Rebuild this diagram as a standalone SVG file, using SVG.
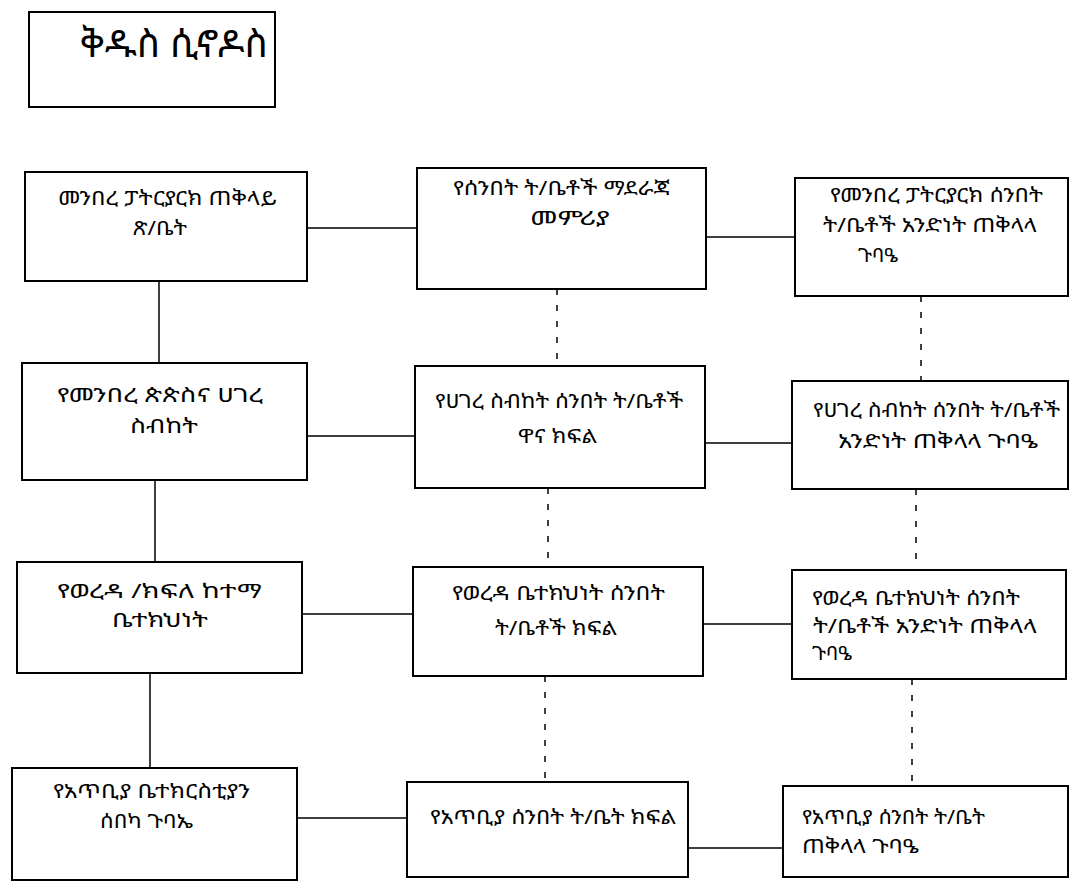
<svg xmlns="http://www.w3.org/2000/svg" width="1074" height="888" viewBox="0 0 1074 888">
<style>
.box{fill:#fff;stroke:#000;stroke-width:2}
.t{font-family:"Noto Sans Ethiopic","Abyssinica SIL","DejaVu Sans","Noto Sans",sans-serif;font-size:20px;fill:#000}
.title{font-size:38px}
.c{fill:none;stroke:#000;stroke-width:1.5}
.d{fill:none;stroke:#000;stroke-width:1.5;stroke-dasharray:6 10}
</style>
<rect width="1074" height="888" fill="#fff"/>
<g id="connectors">
<path class="c" d="M159 281V363M155 480V562M150 673V768"/>
<path class="c" d="M307 228H417M706 237H795"/>
<path class="c" d="M307 436H415M705 443H792"/>
<path class="c" d="M302 614H413M703 624H792"/>
<path class="c" d="M297 818H407M688 848H783"/>
<path class="d" d="M557 289V366M548 488V567M545 676V782"/>
<path class="d" d="M921 296V381M916 489V570M912 679V786"/>
</g>
<g id="n0"><rect class="box" x="29" y="12" width="246" height="95"/><text class="t title" x="80" y="57" textLength="188" lengthAdjust="spacingAndGlyphs">ቅዱስ ሲኖዶስ</text></g>
<g id="n1"><rect class="box" x="25" y="172" width="282" height="109"/>
<text class="t" x="58" y="205" textLength="219" lengthAdjust="spacingAndGlyphs">መንበረ ፓትርያርክ ጠቅላይ</text><text class="t" x="133" y="235" textLength="54" lengthAdjust="spacingAndGlyphs">ጽ/ቤት</text></g>
<g id="n2"><rect class="box" x="417" y="168" width="289" height="121"/>
<text class="t" x="453" y="195" textLength="217" lengthAdjust="spacingAndGlyphs">የሰንበት ት/ቤቶች ማደራጃ</text><text class="t" x="530" y="225" textLength="80" lengthAdjust="spacingAndGlyphs">መምሪያ</text></g>
<g id="n3"><rect class="box" x="795" y="178" width="273" height="118"/>
<text class="t" x="830" y="202" textLength="213" lengthAdjust="spacingAndGlyphs">የመንበረ ፓትርያርክ ሰንበት</text><text class="t" x="823" y="232" textLength="214" lengthAdjust="spacingAndGlyphs">ት/ቤቶች አንድነት ጠቅላላ</text><text class="t" x="858" y="262">ጉባዔ</text></g>
<g id="n4"><rect class="box" x="22" y="363" width="285" height="117"/>
<text class="t" x="57" y="402" textLength="206" lengthAdjust="spacingAndGlyphs">የመንበረ ጵጵስና ሀገረ</text><text class="t" x="130" y="433" textLength="68" lengthAdjust="spacingAndGlyphs">ስብከት</text></g>
<g id="n5"><rect class="box" x="415" y="366" width="290" height="122"/>
<text class="t" x="435" y="408" textLength="248" lengthAdjust="spacingAndGlyphs">የሀገረ ስብከት ሰንበት ት/ቤቶች</text><text class="t" x="518" y="443" textLength="79" lengthAdjust="spacingAndGlyphs">ዋና ክፍል</text></g>
<g id="n6"><rect class="box" x="792" y="381" width="276" height="108"/>
<text class="t" x="813" y="417" textLength="247" lengthAdjust="spacingAndGlyphs">የሀገረ ስብከት ሰንበት ት/ቤቶች</text><text class="t" x="838" y="448" textLength="200" lengthAdjust="spacingAndGlyphs">አንድነት ጠቅላላ ጉባዔ</text></g>
<g id="n7"><rect class="box" x="17" y="562" width="285" height="111"/>
<text class="t" x="57" y="598" textLength="205" lengthAdjust="spacingAndGlyphs">የወረዳ /ክፍለ ከተማ</text><text class="t" x="112" y="627" textLength="96" lengthAdjust="spacingAndGlyphs">ቤተክህነት</text></g>
<g id="n8"><rect class="box" x="413" y="567" width="290" height="109"/>
<text class="t" x="452" y="600" textLength="213" lengthAdjust="spacingAndGlyphs">የወረዳ ቤተክህነት ሰንበት</text><text class="t" x="495" y="635" textLength="122" lengthAdjust="spacingAndGlyphs">ት/ቤቶች ክፍል</text></g>
<g id="n9"><rect class="box" x="792" y="570" width="274" height="109"/>
<text class="t" x="812" y="605" textLength="208" lengthAdjust="spacingAndGlyphs">የወረዳ ቤተክህነት ሰንበት</text><text class="t" x="813" y="633" textLength="224" lengthAdjust="spacingAndGlyphs">ት/ቤቶች አንድነት ጠቅላላ</text><text class="t" x="812" y="660">ጉባዔ</text></g>
<g id="n10"><rect class="box" x="12" y="768" width="285" height="112"/>
<text class="t" x="53" y="798" textLength="197" lengthAdjust="spacingAndGlyphs">የአጥቢያ ቤተክርስቲያን</text><text class="t" x="100" y="828" textLength="93" lengthAdjust="spacingAndGlyphs">ሰበካ ጉባኤ</text></g>
<g id="n11"><rect class="box" x="407" y="782" width="281" height="95"/>
<text class="t" x="430" y="824" textLength="246" lengthAdjust="spacingAndGlyphs">የአጥቢያ ሰንበት ት/ቤት ክፍል</text></g>
<g id="n12"><rect class="box" x="783" y="786" width="285" height="91"/>
<text class="t" x="802" y="824" textLength="183" lengthAdjust="spacingAndGlyphs">የአጥቢያ ሰንበት ት/ቤት</text><text class="t" x="802" y="853" textLength="117" lengthAdjust="spacingAndGlyphs">ጠቅላላ ጉባዔ</text></g>
</svg>
